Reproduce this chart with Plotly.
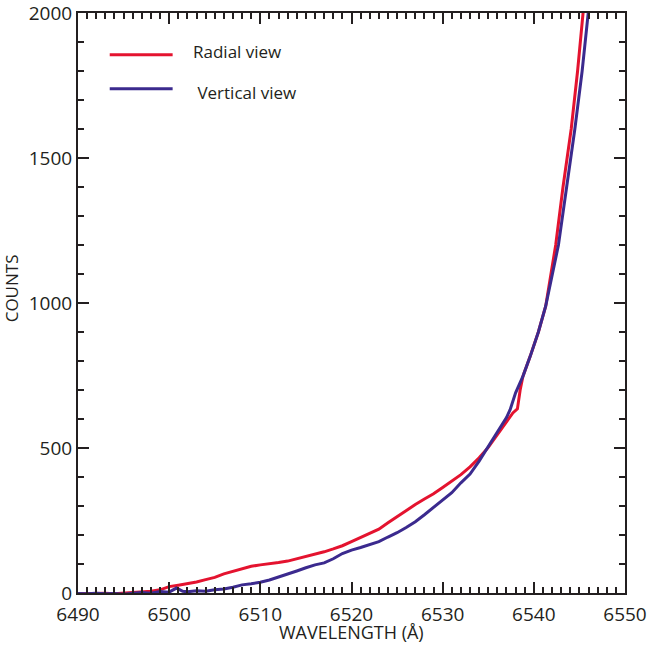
import plotly.graph_objects as go

# Radial view (red)
radial_wl = [6490, 6491, 6492, 6493, 6494, 6495, 6496, 6497, 6498, 6499,
             6500, 6501, 6502, 6503, 6504, 6505, 6506, 6507, 6508, 6509,
             6510, 6511, 6512, 6513, 6514, 6515, 6516, 6517, 6518, 6519,
             6520, 6521, 6522, 6523, 6524, 6525, 6526, 6527, 6528, 6529,
             6530, 6531, 6532, 6533, 6534, 6535, 6536, 6537, 6537.7, 6538.2,
             6538.5, 6538.8, 6539.6, 6540.5, 6541.3, 6542.4, 6543.2, 6544.1,
             6544.8, 6545.4, 6545.7]
radial_counts = [-3, -2, -2, -1, -3, -1, 0, 3, 6, 11,
                 22, 27, 32, 38, 46, 54, 66, 75, 84, 92,
                 97, 100, 105, 110, 118, 125, 134, 142, 152, 163,
                 177, 192, 206, 220, 242, 264, 284, 305, 324, 342,
                 364, 385, 408, 435, 466, 502, 548, 590, 621, 635,
                 700, 747, 816, 900, 989, 1200, 1400, 1600,
                 1800, 2000, 2100]

# Vertical view (blue)
vertical_wl = [6490, 6491, 6492, 6493, 6494, 6495, 6496, 6497, 6498, 6499,
               6500, 6500.8, 6501.5, 6502, 6503, 6504, 6505, 6506, 6507, 6508,
               6509, 6510, 6511, 6512, 6513, 6514, 6515, 6516, 6517, 6518,
               6519, 6520, 6521, 6522, 6523, 6524, 6525, 6526, 6527, 6528,
               6529, 6530, 6531, 6532, 6533, 6534, 6535, 6536, 6537, 6537.4,
               6538, 6538.8, 6539.6, 6540.5, 6541.3, 6542.7, 6543.6, 6544.5,
               6545.3, 6546.0, 6546.3]
vertical_counts = [-2, -3, -1, -3, -2, -4, -1, 2, -1, 5,
                   3, 17, 6, 4, 8, 6, 11, 14, 20, 28,
                   32, 37, 45, 55, 64, 76, 87, 97, 104, 118,
                   136, 148, 157, 168, 177, 193, 208, 226, 246, 270,
                   295, 320, 346, 380, 410, 455, 503, 555, 605, 632,
                   690, 747, 816, 900, 989, 1200, 1400, 1600,
                   1800, 2000, 2100]

x_range = [6490, 6550]
x_major = 10
x_minor = 1
y_range = [0, 2000]
y_major = 500
y_minor = 100
series_names = ["Radial view", " Vertical view"]

RED = "#e4132f"
BLUE = "#3b2a8e"
INK = "#231f20"
FONT = "Open Sans"

fig = go.Figure()
fig.add_trace(go.Scatter(x=radial_wl, y=radial_counts, mode="lines",
                         line=dict(color=RED, width=3), name=series_names[0]))
fig.add_trace(go.Scatter(x=vertical_wl, y=vertical_counts, mode="lines",
                         line=dict(color=BLUE, width=3), name=series_names[1]))

axis_common = dict(
    showgrid=False, zeroline=False, showline=True, linecolor=INK, linewidth=2,
    mirror="ticks", ticks="inside", tickcolor=INK, tickwidth=2, ticklen=11,
    tickfont=dict(family=FONT, size=19, color=INK), ticklabeloverflow="allow",
)
fig.update_xaxes(range=x_range, tick0=x_range[0], dtick=x_major,
                 minor=dict(dtick=x_minor, ticks="inside", ticklen=6,
                            tickcolor=INK, tickwidth=2),
                 ticklabelstandoff=3,
                 **axis_common)
fig.update_yaxes(range=y_range, tick0=y_range[0], dtick=y_major,
                 minor=dict(dtick=y_minor, ticks="inside", ticklen=6,
                            tickcolor=INK, tickwidth=2),
                 **axis_common)

# legend drawn manually
legend_rows = [(0.928, 0.933, RED), (0.8695, 0.8626, BLUE)]
for (ly, ty, col), name in zip(legend_rows, series_names):
    fig.add_shape(type="line", xref="paper", yref="paper", x0=0.058, x1=0.173,
                  y0=ly, y1=ly, line=dict(color=col, width=3))
    fig.add_annotation(xref="paper", yref="paper", x=0.206, y=ty, text=name,
                       showarrow=False, xanchor="left", yanchor="middle",
                       font=dict(family=FONT, size=17, color=INK))

fig.add_annotation(xref="paper", yref="paper", x=0.5, y=-0.068, text="WAVELENGTH (Å)",
                   showarrow=False, xanchor="center", yanchor="middle",
                   font=dict(family=FONT, size=18, color=INK))
fig.add_annotation(xref="paper", yref="paper", x=-0.121, y=0.525, text="COUNTS",
                   showarrow=False, xanchor="center", yanchor="middle", textangle=-90,
                   font=dict(family=FONT, size=17, color=INK))

fig.update_layout(
    width=649, height=647, showlegend=False,
    paper_bgcolor="white", plot_bgcolor="white",
    margin=dict(l=78, r=24, t=13, b=54, autoexpand=False),
)
fig.write_html("out.html")
